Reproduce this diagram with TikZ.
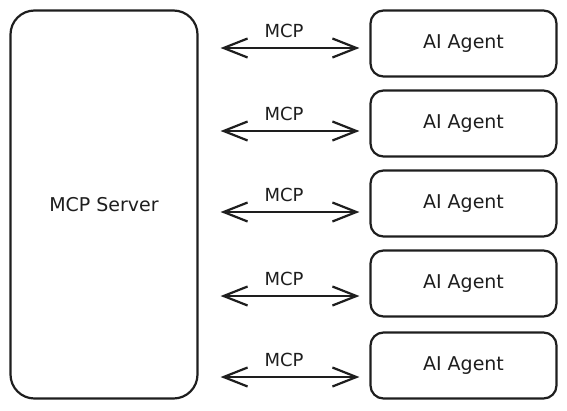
\documentclass[tikz,border=0pt]{standalone}
\usepackage{fontspec}
\setmainfont{DejaVu Sans}
\usepackage{tikz}
\usetikzlibrary{arrows.meta,positioning,calc}
\definecolor{trazo}{HTML}{1E1E1E}
\tikzset{
  every node/.style = {font=\fontsize{19}{22}\selectfont, text=trazo},
  caja/.style       = {draw=trazo, fill=white, line width=2.2pt, align=center},
  servidor/.style   = {caja, rounded corners=24pt,
                       minimum width=187pt, minimum height=388pt},
  agente/.style     = {caja, rounded corners=13pt,
                       minimum width=186pt, minimum height=66pt},
  enlace/.style     = {{Straight Barb[length=24pt,width=19pt]}-{Straight Barb[length=24pt,width=19pt]},
                       draw=trazo, line width=2.2pt,
                       shorten <=22pt, shorten >=10pt},
  rot/.style        = {inner sep=1pt, font=\fontsize{18}{21}\selectfont},
}
\begin{document}
\begin{tikzpicture}[x=1pt,y=-1pt]
\useasboundingbox (0,0) rectangle (567,410);

% =============================================================================
% Servidor y agentes
% =============================================================================
\node[servidor] (srv) at (104,204.5) {MCP Server};

\node[agente] (ag1) at (463.5,43.5)  {AI Agent};
\node[agente] (ag2) at (463.5,123.5) {AI Agent};
\node[agente] (ag3) at (463.5,203.5) {AI Agent};
\node[agente] (ag4) at (463.5,283.5) {AI Agent};
\node[agente] (ag5) at (463.5,365.5) {AI Agent};

% =============================================================================
% Enlaces MCP
% =============================================================================
\foreach \a/\dy in {ag1/4.5,ag2/7.5,ag3/8.5,ag4/12.5,ag5/11.5}
  \draw[enlace] ([yshift=-\dy pt]srv.east |- \a.west) --
    node[rot,above=8pt] {MCP} ([yshift=-\dy pt]\a.west);

\end{tikzpicture}
\end{document}
